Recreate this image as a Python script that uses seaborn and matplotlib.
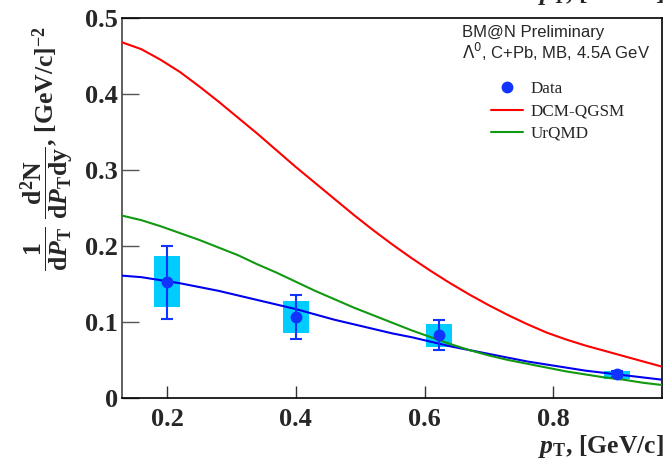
import numpy as np
import pandas as pd
import matplotlib
matplotlib.use("Agg")
import matplotlib.pyplot as plt
from matplotlib.lines import Line2D
import seaborn as sns

# Measured Lambda0 spectrum, C+Pb minimum bias, 4.5A GeV
pt_data = [0.20, 0.40, 0.623, 0.899]
yield_data = [0.152, 0.106, 0.083, 0.031]
stat_err = [0.048, 0.029, 0.020, 0.004]
sys_low = [0.120, 0.086, 0.067, 0.025]
sys_high = [0.187, 0.127, 0.097, 0.036]

# Model curves and fit
pt_curve = [0.13, 0.16, 0.19, 0.22, 0.25, 0.28, 0.31, 0.34, 0.37, 0.40,
            0.43, 0.46, 0.49, 0.52, 0.55, 0.58, 0.61, 0.64, 0.67, 0.70,
            0.73, 0.76, 0.79, 0.82, 0.85, 0.88, 0.91, 0.94, 0.97]
dcm_qgsm = [0.468, 0.459, 0.445, 0.429, 0.410, 0.390, 0.369, 0.348, 0.326, 0.304,
            0.283, 0.262, 0.241, 0.221, 0.202, 0.184, 0.167, 0.151, 0.136, 0.122,
            0.109, 0.097, 0.086, 0.077, 0.069, 0.062, 0.055, 0.048, 0.041]
urqmd = [0.240, 0.234, 0.226, 0.217, 0.208, 0.198, 0.188, 0.176, 0.165, 0.153,
         0.141, 0.130, 0.119, 0.109, 0.099, 0.089, 0.080, 0.071, 0.063, 0.056,
         0.050, 0.045, 0.040, 0.035, 0.031, 0.027, 0.024, 0.020, 0.017]
fit_curve = [0.161, 0.159, 0.155, 0.151, 0.146, 0.141, 0.135, 0.129, 0.123, 0.117,
             0.110, 0.103, 0.097, 0.091, 0.085, 0.080, 0.074, 0.068, 0.063, 0.058,
             0.053, 0.048, 0.044, 0.040, 0.036, 0.033, 0.030, 0.027, 0.024]

x_ticks = [0.2, 0.4, 0.6, 0.8]
y_ticks = [0.0, 0.1, 0.2, 0.3, 0.4, 0.5]
y_tick_labels = ["0", "0.1", "0.2", "0.3", "0.4", "0.5"]

sns.set_style("white")
plt.rcParams["font.family"] = ["Liberation Serif", "DejaVu Serif"]
plt.rcParams["mathtext.fontset"] = "custom"
plt.rcParams["mathtext.rm"] = "Liberation Serif:bold"
plt.rcParams["mathtext.bf"] = "Liberation Serif:bold"
plt.rcParams["mathtext.it"] = "Liberation Serif:italic:bold"
plt.rcParams["mathtext.default"] = "rm"

fig = plt.figure(figsize=(6.65, 4.63), dpi=100)
ax = fig.add_axes([122 / 665, 1 - 398 / 463, 540 / 665, 380 / 463])

curves = pd.DataFrame({
    "pt": pt_curve * 3,
    "value": fit_curve + dcm_qgsm + urqmd,
    "model": ["fit"] * len(pt_curve) + ["DCM-QGSM"] * len(pt_curve) + ["UrQMD"] * len(pt_curve),
})
palette = {"fit": "#0000ee", "DCM-QGSM": "#ff0000", "UrQMD": "#119911"}
sns.lineplot(data=curves, x="pt", y="value", hue="model", palette=palette,
             linewidth=1.5, ax=ax, legend=False, zorder=3)

# systematic boxes
heights = [h - l for h, l in zip(sys_high, sys_low)]
ax.bar(pt_data, heights, bottom=sys_low, width=0.04, color="#00ccff",
       edgecolor="none", zorder=2)
ax.errorbar(pt_data, yield_data, yerr=stat_err, fmt="o", color="#1133ff",
            markersize=7.5, elinewidth=1.5, capsize=4.5, capthick=1.5, zorder=4)

ax.set_xlim(0.13, 0.969)
ax.set_ylim(0, 0.5)
ax.set_xticks(x_ticks)
ax.set_xticklabels([f"{t:.1f}" for t in x_ticks])
ax.set_yticks(y_ticks)
ax.set_yticklabels(y_tick_labels)
ax.set_xlabel("")
ax.set_ylabel("")
for lab in ax.get_xticklabels() + ax.get_yticklabels():
    lab.set_fontsize(19)
    lab.set_fontweight("bold")
ax.tick_params(axis="y", direction="in", length=12, width=1.0, color="#555555", pad=3,
               left=True, right=False)
ax.tick_params(axis="x", direction="in", length=8.5, width=1.0, color="#333333", pad=7,
               bottom=True, top=False)
for s in ax.spines.values():
    s.set_color("black")
    s.set_linewidth(1.2)
ax.spines["left"].set_color("#444444")

# legend
handles = [
    Line2D([], [], marker="o", linestyle="none", color="#1133ff", markersize=7.5),
    Line2D([], [], color="#ff0000", linewidth=1.5),
    Line2D([], [], color="#119911", linewidth=1.5),
]
leg = ax.legend(handles, ["Data", "DCM-QGSM", "UrQMD"], loc="upper left",
                bbox_to_anchor=(491 / 665, 1 - 81 / 463), bbox_transform=fig.transFigure,
                frameon=False, fontsize=12.3, handlelength=1.9, handletextpad=0.4,
                labelspacing=0.38, borderpad=0, borderaxespad=0)
for t in leg.get_texts():
    t.set_fontfamily("Liberation Serif")

fig.text(462 / 665, 1 - 32 / 463, "BM@N Preliminary", family="Liberation Sans",
         fontsize=12, va="center", ha="left")
fig.text(462 / 665, 1 - 52 / 463, r"$\Lambda^{0}$, C+Pb, MB, 4.5A GeV",
         family="Liberation Sans", math_fontfamily="dejavusans",
         fontsize=12, va="center", ha="left")

# axis titles
ylabel = (r"$\dfrac{1}{\mathrm{d}\mathit{P}_{\mathrm{T}}}\ "
          r"\dfrac{\mathrm{d}^{2}\mathrm{N}}{\mathrm{d}\mathit{P}_{\mathrm{T}}\mathrm{dy}}$"
          r", [GeV/c]$^{-2}$")
fig.text(47 / 665, 1 - 148 / 463, ylabel, rotation=90, ha="center", va="center",
         fontsize=18.5, fontweight="bold")
xlabel = r"$\mathit{p}_{\mathrm{T}}$, [GeV/c]"
fig.text(664 / 665, 1 - 453 / 463, xlabel, ha="right", va="baseline",
         fontsize=18.5, fontweight="bold")
fig.text(664 / 665, 1.0, xlabel, ha="right", va="baseline",
         fontsize=18.5, fontweight="bold")

fig.savefig("out.png", dpi=100)
